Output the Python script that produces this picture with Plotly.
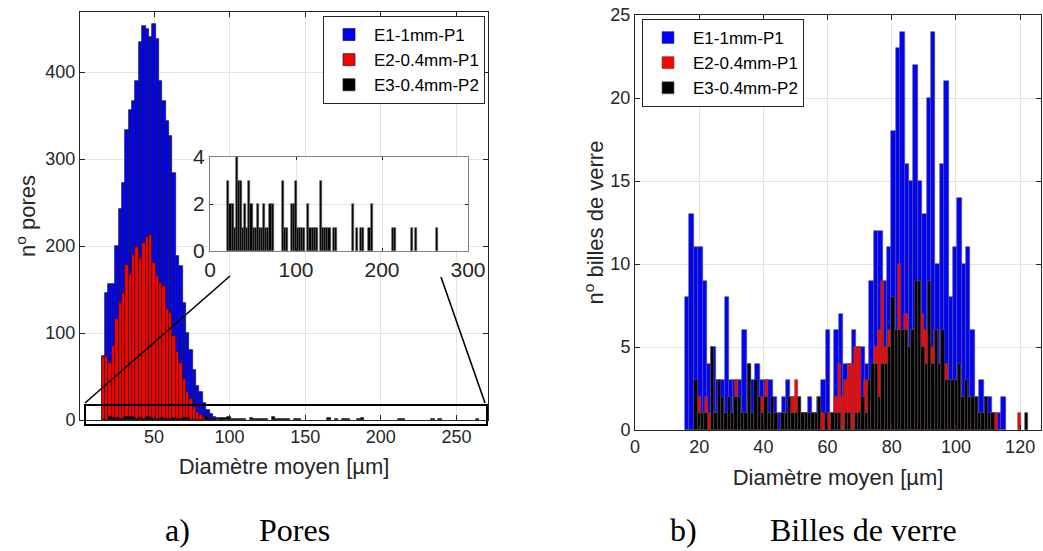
import plotly.graph_objects as go

W, H = 1043, 551

# ---------------- data : a) pores ----------------
series_names = ["E1-1mm-P1", "E2-0.4mm-P1", "E3-0.4mm-P2"]
series_colors = ["#0000ff", "#ff0000", "#000000"]

pores_bin_start_E1E2 = 15.4
pores_bin_width_E1E2 = 2.23
pores_E1 = [74, 146, 156, 156, 200, 242, 272, 333, 356, 367, 390, 434, 453, 450, 440, 455, 438, 390,
            367, 344, 327, 284, 188, 177, 135, 100, 81, 58, 39, 32, 20, 12, 7, 4, 2, 1]
pores_E2 = [72, 74, 66, 85, 116, 135, 146, 178, 168, 190, 199, 186, 203, 210, 213, 180, 165, 157,
            154, 128, 123, 97, 78, 66, 47, 32, 24, 15, 9, 6, 3, 1]
pores_bin_start_E3 = 20.1
pores_bin_width_E3 = 2.45
pores_E3 = [3, 2, 2, 1, 4, 3, 3, 1, 2, 1, 3, 2, 1, 1, 2, 1, 1, 2, 1, 1,
            2, 2, 0, 0, 0, 0, 3, 1, 1, 0, 2, 2, 3, 1, 1, 1, 1, 0, 2, 1,
            1, 1, 1, 0, 3, 1, 1, 1, 1, 0, 1, 1, 0, 0, 0, 0, 0, 0, 0, 2,
            0, 1, 0, 1, 1, 0, 0, 1, 2, 0, 0, 0, 0, 0, 0, 0, 0, 0, 1, 1,
            0, 0, 0, 0, 0, 0, 0, 1, 0, 1, 0, 0, 0, 0, 0, 0, 0, 0, 0, 1]

pores_xticks = [50, 100, 150, 200, 250]
pores_yticks = [0, 100, 200, 300, 400]
inset_xticks = [0, 100, 200, 300]
inset_yticks = [0, 2, 4]

# ---------------- data : b) billes de verre ----------------
glass_start_E1, glass_width_E1 = 15.6, 1.368
glass_E1 = [8, 13, 11, 11, 9, 4, 5, 3, 3, 8, 3, 3, 3, 6, 4, 3, 4, 3, 3, 3,
            2, 1, 2, 3, 2, 1, 1, 1, 2, 1, 2, 3, 6, 1, 6, 7, 4, 4, 6, 5,
            5, 4, 9, 12, 12, 9, 11, 18, 23, 24, 16, 15, 22, 15, 13, 20, 24, 10, 16, 21,
            8, 11, 14, 10, 11, 6, 2, 3, 2, 2, 1, 1, 2]
glass_start_E2, glass_width_E2 = 18.6, 1.037
glass_E2 = [1, 2, 1, 2, 1, 1, 0, 2, 1, 1, 1, 1, 3, 1, 1, 1, 2, 1, 1, 1,
            2, 3, 1, 1, 1, 0, 1, 1, 1, 2, 3, 2, 1, 1, 0, 1, 1, 0, 1, 0,
            1, 1, 2, 4, 2, 3, 4, 4, 5, 5, 1, 3, 2, 3, 5, 6, 9, 5, 6, 4,
            6, 10, 6, 7, 5, 6, 5, 4, 7, 6, 3, 5, 6, 3, 6, 4, 2, 3, 3, 3,
            2, 1, 2, 1, 1, 1, 0, 1, 0, 1, 1, 0, 0, 0, 0, 0, 0, 1, 0, 0]
glass_start_E3, glass_width_E3 = 18.5, 1.04
glass_E3 = [3, 1, 1, 1, 0, 5, 1, 3, 2, 1, 2, 1, 2, 2, 1, 1, 4, 1, 3, 2,
            1, 2, 1, 2, 1, 0, 1, 1, 2, 1, 1, 2, 1, 1, 1, 1, 1, 2, 0, 1,
            0, 1, 1, 1, 0, 1, 1, 0, 1, 1, 2, 1, 3, 4, 4, 2, 4, 4, 5, 8,
            6, 6, 6, 6, 5, 6, 9, 9, 5, 4, 9, 4, 6, 4, 6, 3, 3, 3, 3, 4,
            2, 3, 2, 2, 2, 1, 1, 2, 1, 1, 0, 0, 0, 0, 0, 0, 0, 0, 0, 1]
glass_xticks = [0, 20, 40, 60, 80, 100, 120]
glass_yticks = [0, 5, 10, 15, 20, 25]

captions = [("a)", "Pores"), ("b)", "Billes de verre")]
xlabel = "Diamètre moyen [µm]"
ylabel_a = "n<sup>o</sup> pores"
ylabel_b = "n<sup>o</sup> billes de verre"


def centers(start, width, counts):
    return [start + width * (i + 0.5) for i in range(len(counts))]


def nz(counts):
    return [c if c > 0 else None for c in counts]


fig = go.Figure()

# ---- panel a main ----
pores_sets = [(pores_E1, pores_bin_start_E1E2, pores_bin_width_E1E2),
              (pores_E2, pores_bin_start_E1E2, pores_bin_width_E1E2),
              (pores_E3, pores_bin_start_E3, pores_bin_width_E3)]
for (cnt, st, wd), name, col in zip(pores_sets, series_names, series_colors):
    fig.add_trace(go.Bar(x=centers(st, wd, cnt), y=nz(cnt), width=wd, name=name,
                         marker=dict(color=col, line=dict(color="#1a1a1a", width=0.7)),
                         xaxis="x", yaxis="y", legend="legend"))

# ---- inset ----
fig.add_trace(go.Bar(x=centers(pores_bin_start_E3, pores_bin_width_E3, pores_E3), y=nz(pores_E3),
                     width=pores_bin_width_E3, name=series_names[2], showlegend=False,
                     marker=dict(color="#000000", line=dict(color="#555555", width=0.6)),
                     xaxis="x3", yaxis="y3"))

# ---- panel b ----
glass_sets = [(glass_E1, glass_start_E1, glass_width_E1),
              (glass_E2, glass_start_E2, glass_width_E2),
              (glass_E3, glass_start_E3, glass_width_E3)]
for (cnt, st, wd), name, col in zip(glass_sets, series_names, series_colors):
    fig.add_trace(go.Bar(x=centers(st, wd, cnt), y=nz(cnt), width=wd, name=name,
                         marker=dict(color=col, line=dict(color="#555555", width=0.6)),
                         xaxis="x2", yaxis="y2", legend="legend2"))


def px_x(px):
    return px / W


def px_y(py):
    return 1 - py / H


AX_COL = "#262626"
GRID = "#e4e4e4"
FONT = "Liberation Sans, Arial, sans-serif"

common = dict(showline=True, linecolor=AX_COL, linewidth=1, mirror="ticks", ticks="inside",
              ticklen=5, tickcolor=AX_COL, showgrid=True, gridcolor=GRID, gridwidth=1,
              zeroline=False, automargin=False,
              tickfont=dict(family=FONT, size=18, color=AX_COL))
inset_common = {**common, "tickfont": dict(family=FONT, size=21, color=AX_COL),
                "linecolor": "#7f7f7f", "ticklen": 3}

fig.update_layout(
    width=W, height=H, margin=dict(l=0, r=0, t=0, b=0),
    paper_bgcolor="white", plot_bgcolor="white", barmode="overlay", bargap=0,
    template="none", font=dict(family=FONT, color=AX_COL),
    xaxis=dict(domain=[px_x(80), px_x(488)], range=[1.06, 270.9], tickvals=pores_xticks,
               anchor="y", title=dict(text=xlabel, font=dict(size=22), standoff=13), **common),
    yaxis=dict(domain=[px_y(420), px_y(12)], range=[0, 469], tickvals=pores_yticks,
               anchor="x", title=dict(text=ylabel_a, font=dict(size=22), standoff=3), **common),
    xaxis3=dict(domain=[px_x(210), px_x(468)], range=[0, 300], tickvals=inset_xticks,
                anchor="y3", **inset_common),
    yaxis3=dict(domain=[px_y(251), px_y(157)], range=[0, 4], tickvals=inset_yticks,
                anchor="x3", **inset_common),
    xaxis2=dict(domain=[px_x(635), px_x(1041)], range=[0, 126.5], tickvals=glass_xticks,
                anchor="y2", title=dict(text=xlabel, font=dict(size=22), standoff=14), **common),
    yaxis2=dict(domain=[px_y(430), px_y(15)], range=[0, 25], tickvals=glass_yticks,
                anchor="x2", title=dict(text=ylabel_b, font=dict(size=22), standoff=0), **common),
    legend=dict(x=px_x(323), y=px_y(16), xanchor="left", yanchor="top", bgcolor="white",
                bordercolor=AX_COL, borderwidth=1, font=dict(family=FONT, size=17, color="#000"),
                tracegroupgap=0, itemwidth=40),
    legend2=dict(x=px_x(642), y=px_y(19), xanchor="left", yanchor="top", bgcolor="white",
                 bordercolor=AX_COL, borderwidth=1, font=dict(family=FONT, size=17, color="#000"),
                 tracegroupgap=0, itemwidth=40),
)

# zoom indicator (rectangle + connecting lines) in paper coordinates
shapes = [
    dict(type="rect", xref="paper", yref="paper", x0=px_x(85), x1=px_x(487), y0=px_y(425), y1=px_y(405),
         line=dict(color="black", width=2)),
    dict(type="line", xref="paper", yref="paper", x0=px_x(85), y0=px_y(403), x1=px_x(230), y1=px_y(276),
         line=dict(color="black", width=1.6)),
    dict(type="line", xref="paper", yref="paper", x0=px_x(441), y0=px_y(277), x1=px_x(485), y1=px_y(403),
         line=dict(color="black", width=1.6)),
]
fig.update_layout(shapes=shapes)

# captions
cap_font = dict(family="Liberation Serif, Times New Roman, serif", size=32, color="black")
cap_pos = [(163, 257), (668, 768)]
for (lab, txt), (xl, xt) in zip(captions, cap_pos):
    fig.add_annotation(text=lab, x=px_x(xl), y=px_y(530), xref="paper", yref="paper",
                       xanchor="left", yanchor="middle", showarrow=False, font=cap_font)
    fig.add_annotation(text=txt, x=px_x(xt), y=px_y(530), xref="paper", yref="paper",
                       xanchor="left", yanchor="middle", showarrow=False, font=cap_font)

fig.write_html("out.html", config={"displayModeBar": False},
               post_script="document.body.style.margin='0px';document.body.style.overflow='hidden';")
